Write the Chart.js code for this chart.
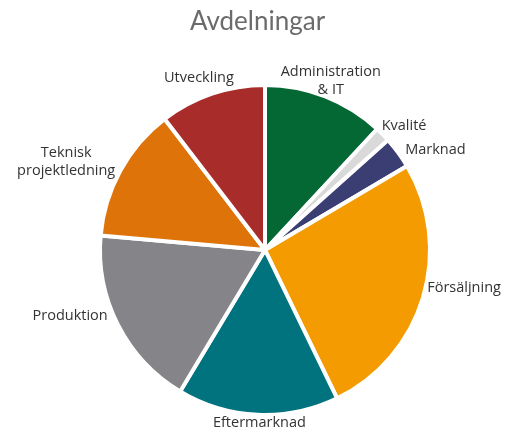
<!DOCTYPE html>
<html>
<head>
<meta charset="utf-8">
<script src="https://cdn.jsdelivr.net/npm/chart.js@4"></script>
<style>
html, body { margin: 0; padding: 0; background: #fff; }
#wrap { width: 505px; height: 430px; }
</style>
</head>
<body>
<div id="wrap"><canvas id="myChart-avdelningar"></canvas></div>
<script>
// avdelningar (andel av personalen, %)
const rubrik = 'Avdelningar';
const avdelningar = [['Administration', '& IT'], 'Kvalité', 'Marknad', 'Försäljning',
    'Eftermarknad', 'Produktion', ['Teknisk', 'projektledning'], 'Utveckling'];
const andel = [11.9, 1.5, 3.1, 26.3, 15.8, 17.8, 13.2, 10.4];
const farger = ['#046835', '#d9d9d9', '#3b3e72', '#f39b00', '#00737e', '#858489', '#de7309', '#a82d2a'];

// small manual tweaks of label placement [dx, dy]
const nudge = [[-15, 7], [1, 2], [8, 6], [0, -14], [4, -7], [-9, -16], [-6, 3], [0, -2]];

const etiketter = {
    id: 'etiketter',
    afterDatasetsDraw(chart) {
        const ctx = chart.ctx;
        const meta = chart.getDatasetMeta(0);
        ctx.save();
        // rubrik
        ctx.font = '26px Lato';
        ctx.fillStyle = '#6b6b6b';
        ctx.textAlign = 'center';
        ctx.textBaseline = 'middle';
        ctx.fillText(rubrik, chart.width / 2 + 5, 22);

        ctx.font = '14.5px "Open Sans"';
        ctx.fillStyle = '#333333';
        meta.data.forEach((arc, i) => {
            const p = arc.getProps(['x', 'y', 'startAngle', 'endAngle', 'outerRadius'], true);
            const mid = (p.startAngle + p.endAngle) / 2;
            const r = p.outerRadius + 6;
            const ax = p.x + Math.cos(mid) * r;
            const ay = p.y + Math.sin(mid) * r;
            const lines = [].concat(chart.data.labels[i]);
            const lh = 18;
            const w = Math.max(...lines.map(l => ctx.measureText(l).width));
            const h = lines.length * lh;
            const cx = ax + Math.cos(mid) * w / 2 + nudge[i][0];
            const cy = ay + Math.sin(mid) * h / 2 + nudge[i][1];
            lines.forEach((l, j) => ctx.fillText(l, cx, cy - h / 2 + lh / 2 + j * lh));
        });
        ctx.restore();
    }
};

const ctx1 = document.getElementById('myChart-avdelningar').getContext('2d');
const myChart1 = new Chart(ctx1, {
    type: 'pie',
    data: {
        labels: avdelningar,
        datasets: [{
            data: andel,
            backgroundColor: farger,
            borderColor: '#ffffff',
            borderWidth: 4
        }]
    },
    options: {
        responsive: true,
        maintainAspectRatio: false,
        animation: false,
        layout: { padding: { left: 45, right: 20, top: 83, bottom: 13 } },
        plugins: {
            legend: { display: false },
            tooltip: { enabled: false },
            title: { display: false }
        }
    },
    plugins: [etiketter]
});
</script>
</body>
</html>
